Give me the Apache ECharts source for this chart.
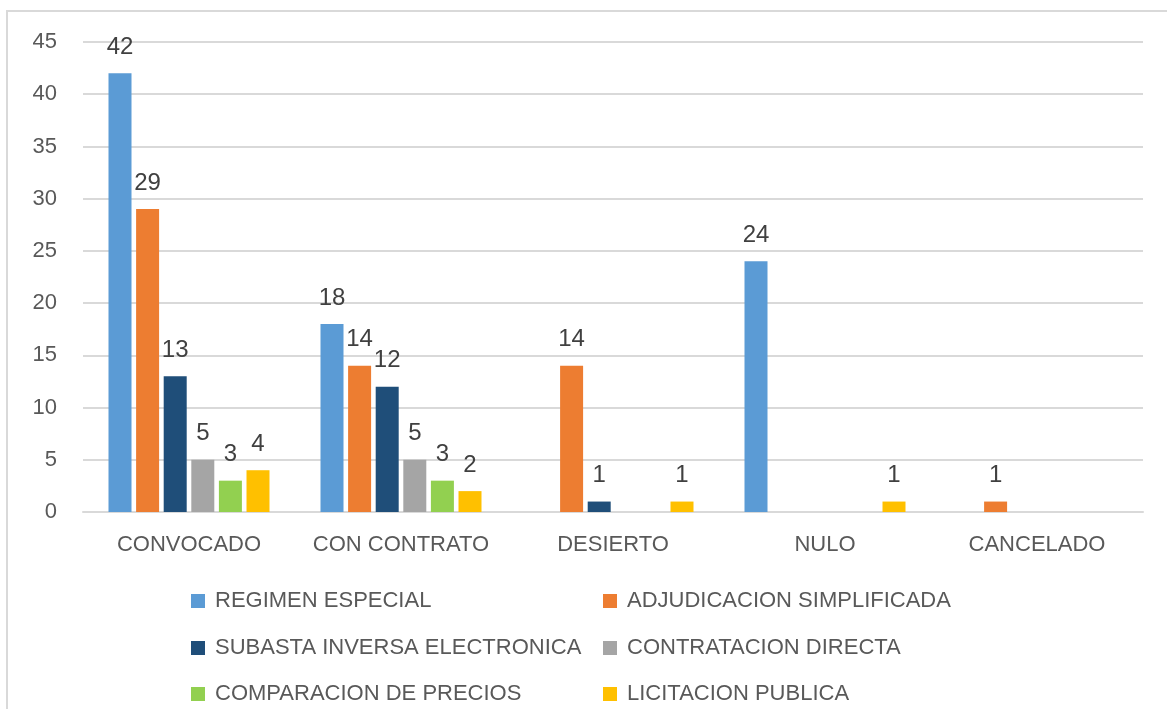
<!DOCTYPE html>
<html>
<head>
<meta charset="utf-8">
<script src="https://cdn.jsdelivr.net/npm/echarts@6/dist/echarts.min.js"></script>
<style>
  html, body { margin: 0; padding: 0; background: #fff; }
  #chart { width: 1167px; height: 709px; }
</style>
</head>
<body>
<div id="chart"></div>
<script>
const categories = ['CONVOCADO', 'CON CONTRATO', 'DESIERTO', 'NULO', 'CANCELADO']
const seriesNames = [
  'REGIMEN ESPECIAL',
  'ADJUDICACION SIMPLIFICADA',
  'SUBASTA INVERSA ELECTRONICA',
  'CONTRATACION DIRECTA',
  'COMPARACION DE PRECIOS',
  'LICITACION PUBLICA'
]
const regimenEspecial = [42, 18, 0, 24, 0]
const adjudicacionSimplificada = [29, 14, 14, 0, 1]
const subastaInversa = [13, 12, 1, 0, 0]
const contratacionDirecta = [5, 5, 0, 0, 0]
const comparacionPrecios = [3, 3, 0, 0, 0]
const licitacionPublica = [4, 2, 1, 1, 0]
const yTicks = { min: 0, max: 45, interval: 5 }

const values = [regimenEspecial, adjudicacionSimplificada, subastaInversa,
  contratacionDirecta, comparacionPrecios, licitacionPublica]
const colors = ['#5B9BD5', '#ED7D31', '#1F4E79', '#A5A5A5', '#92D050', '#FFC000']

const font = 'Liberation Sans, Arial, sans-serif'
const chart = echarts.init(document.getElementById('chart'), null, { renderer: 'canvas' })

// legend laid out as 2 columns x 3 rows, one legend per entry
const legendCols = [191, 603]
const legendRows = [589, 636, 682]
const legends = seriesNames.map((name, i) => ({
  left: legendCols[i % 2],
  top: legendRows[Math.floor(i / 2)],
  padding: 0,
  itemWidth: 14,
  itemHeight: 14,
  icon: 'rect',
  textStyle: {
    color: '#595959',
    fontFamily: font,
    fontSize: 22,
    lineHeight: 24,
    padding: [0, 0, 0, 5]
  },
  data: [name]
}))

const options = {
  backgroundColor: '#fff',
  animation: false,
  color: colors,
  graphic: [{
    type: 'rect',
    shape: { x: 7, y: 11, width: 1300, height: 900 },
    style: { fill: 'none', stroke: '#d9d9d9', lineWidth: 2 },
    silent: true
  }],
  grid: { left: 83, right: 24, top: 42, bottom: 197 },
  legend: legends,
  xAxis: {
    type: 'category',
    data: categories,
    axisLine: { lineStyle: { color: '#d9d9d9', width: 2 } },
    axisTick: { show: false },
    axisLabel: { color: '#595959', fontFamily: font, fontSize: 22, margin: 22, interval: 0 }
  },
  yAxis: {
    type: 'value',
    min: yTicks.min,
    max: yTicks.max,
    interval: yTicks.interval,
    axisLine: { show: false },
    axisTick: { show: false },
    axisLabel: { color: '#595959', fontFamily: font, fontSize: 22, margin: 26 },
    splitLine: { lineStyle: { color: '#d9d9d9', width: 2 } }
  },
  series: seriesNames.map((name, i) => ({
    name,
    type: 'bar',
    data: values[i],
    barWidth: 23,
    barGap: '20%',
    itemStyle: { color: colors[i] },
    label: {
      show: true,
      position: 'top',
      distance: 14,
      color: '#404040',
      fontFamily: font,
      fontSize: 24,
      formatter: (p) => (p.value ? String(p.value) : '')
    }
  }))
}
chart.setOption(options)
</script>
</body>
</html>
